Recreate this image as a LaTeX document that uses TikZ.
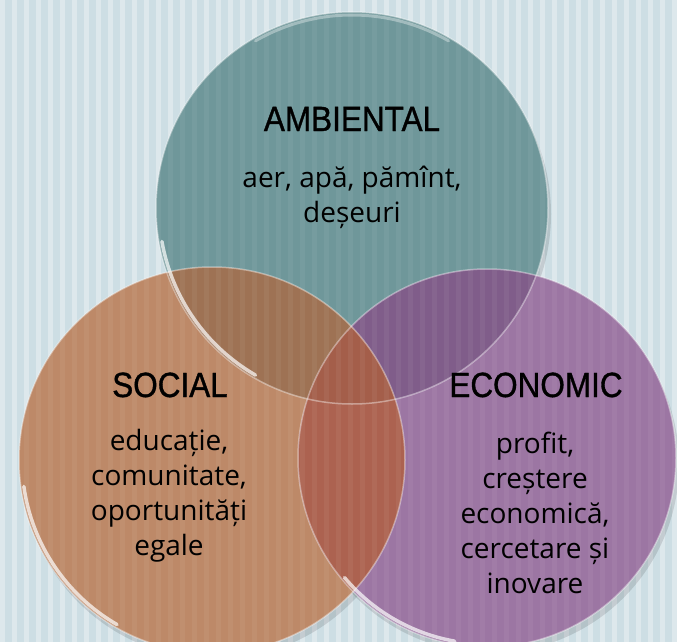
\documentclass[tikz,border=0pt]{standalone}
\usepackage{fontspec}
\setmainfont{Open Sans}
\newfontfamily\headfont[FakeStretch=0.9,FakeBold=1]{Liberation Sans}
\definecolor{bgblue}{RGB}{205,222,228}
\definecolor{tealc}{RGB}{111,151,154}
\definecolor{orangec}{RGB}{189,137,104}
\definecolor{purplec}{RGB}{156,118,163}
\definecolor{tealorange}{RGB}{158,114,84}
\definecolor{tealpurple}{RGB}{128,93,138}
\definecolor{orangepurple}{RGB}{172,98,80}
\definecolor{allthree}{RGB}{164,94,74}
\begin{document}
\begin{tikzpicture}[x=1pt,y=-1pt,
	head/.style={font=\headfont\fontsize{35}{40}\selectfont,inner sep=0pt,anchor=base},
	body/.style={font=\fontsize{28}{35}\selectfont,align=center,inner sep=0pt,anchor=base},
	rim/.style={draw=white,draw opacity=0.4,line width=1.5pt},
	shine/.style={draw=white,draw opacity=0.7,line width=3.5pt,line cap=round}]
	\clip (0,0) rectangle (677,642);
	\fill[bgblue] (0,0) rectangle (677,642);
	\foreach \x in {0,12,...,672} \fill[white,opacity=0.3] (\x,0) rectangle ++(5,642);
	\coordinate (amb) at (352,208);
	\coordinate (soc) at (212,460);
	\coordinate (eco) at (487,458);
	% shadows
	\foreach \c/\r in {amb/196,soc/193,eco/189}
		\fill[black,opacity=0.12] ([shift={(3,6)}]\c) circle[radius=\r];
	% circles and overlaps
	\fill[tealc] (amb) circle[radius=196];
	\fill[orangec] (soc) circle[radius=193];
	\fill[purplec] (eco) circle[radius=189];
	\begin{scope}
		\clip (amb) circle[radius=196];
		\fill[tealorange] (soc) circle[radius=193];
		\fill[tealpurple] (eco) circle[radius=189];
	\end{scope}
	\begin{scope}
		\clip (soc) circle[radius=193];
		\fill[orangepurple] (eco) circle[radius=189];
		\clip (amb) circle[radius=196];
		\fill[allthree] (eco) circle[radius=189];
	\end{scope}
	\foreach \x in {0,12,...,672} \fill[white,opacity=0.05] (\x,0) rectangle ++(5,642);
	% glass rims
	\foreach \c/\r/\a/\b in {amb/196/120/170,soc/193/120/172,eco/189/100/140} {
		\draw[rim] (\c) circle[radius=\r];
		\draw[shine] (\c) ++(\a:\r-3) arc[start angle=\a,end angle=\b,radius=\r-3];
	}
	\draw[draw=white,draw opacity=0.35,line width=3pt,line cap=round]
		(amb) ++(-120:193) arc[start angle=-120,end angle=-60,radius=193];
	% texts (base = last line)
	\node[head] (ambHead) at (352,131) {AMBIENTAL};
	\node[body] (ambText) at (352,222) {aer, apă, pămînt,\\deșeuri};
	\node[head] (socHead) at (170,397) {SOCIAL};
	\node[body] (socText) at (169,555) {educație,\\comunitate,\\oportunități\\egale};
	\node[head] (ecoHead) at (536,397) {ECONOMIC};
	\node[body] (ecoText) at (535,593) {profit,\\creștere\\economică,\\cercetare și\\inovare};
\end{tikzpicture}
\end{document}
